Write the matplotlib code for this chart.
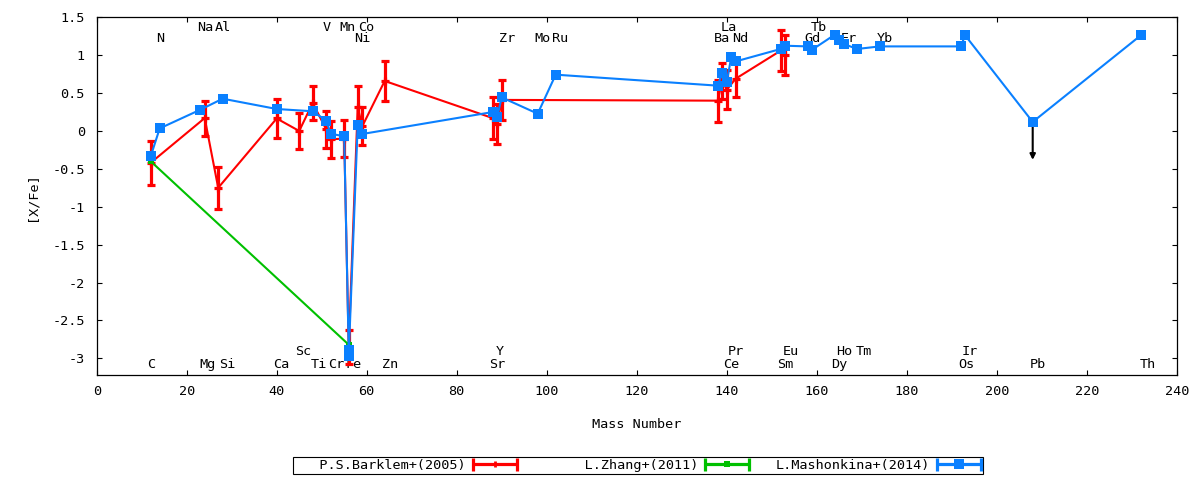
import matplotlib
matplotlib.use('Agg')
import matplotlib.pyplot as plt
from matplotlib.lines import Line2D
from matplotlib.legend_handler import HandlerBase
from matplotlib.ticker import MultipleLocator, FuncFormatter

# ---------------- data ----------------
barklem_el = ['C', 'Mg', 'Al', 'Ca', 'Sc', 'Ti', 'V', 'Cr', 'Mn', 'Fe', 'Ni', 'Co', 'Zn',
              'Sr', 'Y', 'Zr', 'Ba', 'La', 'Ce', 'Nd', 'Sm', 'Eu']
barklem_A = [12, 24, 27, 40, 45, 48, 51, 52, 55, 56, 58, 59, 64,
             88, 89, 90, 138, 139, 140, 142, 152, 153]
barklem_val = [-0.42, 0.17, -0.75, 0.165, 0.0, 0.37, 0.02, -0.11, -0.10, -2.85, 0.32, 0.06, 0.66,
               0.17, 0.09, 0.41, 0.40, 0.66, 0.545, 0.69, 1.06, 1.00]
barklem_err = [0.29, 0.23, 0.275, 0.26, 0.24, 0.23, 0.25, 0.24, 0.24, 0.22, 0.27, 0.25, 0.26,
               0.275, 0.26, 0.26, 0.275, 0.24, 0.26, 0.245, 0.27, 0.26]

zhang_el = ['C', 'Fe']
zhang_A = [12, 56]
zhang_val = [-0.40, -2.82]
zhang_err = [0.02, 0.05]

mash_el = ['C', 'N', 'Na', 'Si', 'Ca', 'Ti', 'V', 'Cr', 'Mn', 'Fe', 'Fe', 'Ni', 'Co',
           'Sr', 'Y', 'Zr', 'Mo', 'Ru', 'Ba', 'La', 'Ce', 'Pr', 'Nd', 'Sm', 'Eu',
           'Gd', 'Tb', 'Dy', 'Ho', 'Er', 'Tm', 'Yb', 'Os', 'Ir', 'Pb', 'Th']
mash_A = [12, 14, 23, 28, 40, 48, 51, 52, 55, 56, 56, 58, 59,
          88, 89, 90, 98, 102, 138, 139, 140, 141, 142, 152, 153,
          158, 159, 164, 165, 166, 169, 174, 192, 193, 208, 232]
mash_val = [-0.335, 0.034, 0.28, 0.426, 0.29, 0.26, 0.136, -0.036, -0.071, -2.89, -2.97, 0.083, -0.04,
            0.25, 0.185, 0.443, 0.228, 0.743, 0.598, 0.765, 0.64, 0.971, 0.918, 1.082, 1.125,
            1.116, 1.073, 1.27, 1.195, 1.148, 1.082, 1.116, 1.116, 1.261, 0.119, 1.261]

# upper limit (Pb)
pb_A = 208
pb_val = 0.119
pb_arrow = 0.5

# element labels: text, x position, row (0 top-high, 1 top-low, 2 bottom-high, 3 bottom-low)
label_text = ['Na', 'Al', 'V', 'Mn', 'Co', 'La', 'Tb',
              'N', 'Ni', 'Zr', 'Mo', 'Ru', 'Ba', 'Nd', 'Gd', 'Er', 'Yb',
              'Sc', 'Y', 'Pr', 'Eu', 'Ho', 'Tm', 'Ir',
              'C', 'Mg', 'Si', 'Ca', 'Ti', 'Cr', 'Fe', 'Zn', 'Sr', 'Ce', 'Sm', 'Dy', 'Os', 'Pb', 'Th']
label_x = [24.1, 28.0, 51.1, 55.8, 60.0, 140.4, 160.4,
           14.2, 59.1, 91.1, 99.1, 103.0, 138.9, 143.1, 159.1, 167.2, 175.2,
           45.9, 89.5, 142.1, 154.2, 166.1, 170.4, 194.1,
           12.2, 24.7, 28.9, 41.1, 49.4, 53.3, 57.0, 65.2, 89.0, 141.1, 153.1, 165.0, 193.3, 209.2, 233.5]
label_row = [0] * 7 + [1] * 10 + [2] * 7 + [3] * 15
row_y = [1.36, 1.225, -2.905, -3.075]

xticks = list(range(0, 241, 20))
series_names = ['P.S.Barklem+(2005)', 'L.Zhang+(2011)', 'L.Mashonkina+(2014)']

# ---------------- style ----------------
plt.rcParams['font.family'] = ['DejaVu Sans Mono', 'DejaVu Sans']
FS = 9.7
RED = '#ff0000'
GREEN = '#00c000'
BLUE = '#0a80ff'

fig = plt.figure(figsize=(12, 4.8), dpi=100)
ax = fig.add_axes([96.7 / 1200, 1 - 375 / 480, 1080 / 1200, 357.7 / 480])
ax.set_xlim(0, 240)
ax.set_ylim(-3.22, 1.5)

ax.errorbar(barklem_A, barklem_val, yerr=barklem_err, color=RED, lw=1.5,
            elinewidth=2.3, capsize=3.0, capthick=2.3, marker='+', ms=5.8, mew=2.3, zorder=3)
ax.errorbar(zhang_A, zhang_val, yerr=zhang_err, color=GREEN, lw=1.5,
            elinewidth=2.0, capsize=3.6, capthick=2.0, marker='s', ms=4.5, mew=0, zorder=4)
ax.annotate('', xy=(pb_A, pb_val - pb_arrow), xytext=(pb_A, pb_val),
            arrowprops=dict(arrowstyle='-|>', color='black', lw=1.5, mutation_scale=8,
                            shrinkA=0, shrinkB=0), zorder=4.5)
ax.plot(mash_A, mash_val, color=BLUE, lw=1.5, marker='s', ms=7.5, mew=0, zorder=5)

for t, x, r in zip(label_text, label_x, label_row):
    ax.text(x, row_y[r], t, ha='center', va='center', fontsize=FS, color='black', zorder=1)

ax.xaxis.set_major_locator(MultipleLocator(20))
ax.yaxis.set_major_locator(MultipleLocator(0.5))
fmt = FuncFormatter(lambda v, p: '%g' % v)
ax.xaxis.set_major_formatter(fmt)
ax.yaxis.set_major_formatter(fmt)
ax.tick_params(direction='in', length=3.6, width=0.8, top=True, right=True,
               labelsize=FS, colors='black')
ax.tick_params(axis='y', pad=8.5)
ax.tick_params(axis='x', pad=7)
for s in ax.spines.values():
    s.set_linewidth(0.9)

ax.set_xlabel('Mass Number', fontsize=FS)
ax.xaxis.label.set_va('center')
ax.xaxis.set_label_coords(0.5, (375 - 424) / 357.7)
ax.set_ylabel('[X/Fe]', fontsize=FS)
ax.yaxis.label.set_va('center')
ax.yaxis.set_label_coords((32 - 96.7) / 1080, 0.5)


class ErrHandler(HandlerBase):
    def __init__(self, color, lw, cap, marker=None, ms=0):
        super().__init__()
        self.color, self.lw, self.cap, self.marker, self.ms = color, lw, cap, marker, ms

    def create_artists(self, legend, orig_handle, xdescent, ydescent, width, height, fontsize, trans):
        x0 = -xdescent
        x1 = -xdescent + width
        y = (height - ydescent) / 2
        arts = [Line2D([x0, x1], [y, y], color=self.color, lw=self.lw, solid_capstyle='butt')]
        for xx in (x0, x1):
            arts.append(Line2D([xx, xx], [y - self.cap, y + self.cap], color=self.color,
                               lw=self.lw, solid_capstyle='butt'))
        if self.marker:
            mew = 2.0 if self.marker == '|' else 0
            arts.append(Line2D([(x0 + x1) / 2], [y], marker=self.marker, ms=self.ms,
                               color=self.color, mew=mew, linestyle='none'))
        for a in arts:
            a.set_transform(trans)
        return arts


h1, h2, h3 = Line2D([], []), Line2D([], []), Line2D([], [])
labels = [series_names[0].rjust(21), series_names[1].rjust(19), series_names[2].rjust(19)]
leg = fig.legend([h1, h2, h3], labels, ncol=3, loc='center',
                 bbox_to_anchor=(638.2 / 1200, 1 - 465.5 / 480),
                 markerfirst=False, fontsize=FS, handlelength=3.27, handletextpad=0.52,
                 columnspacing=2.0, borderpad=0.15, frameon=True, fancybox=False,
                 edgecolor='black', framealpha=1,
                 handler_map={h1: ErrHandler(RED, 2.3, 4.5, '|', 5),
                              h2: ErrHandler(GREEN, 2.3, 4.5, 's', 4.5),
                              h3: ErrHandler(BLUE, 2.3, 4.5, 's', 7)})
leg.get_frame().set_linewidth(0.8)

fig.savefig('out.png', dpi=100)
